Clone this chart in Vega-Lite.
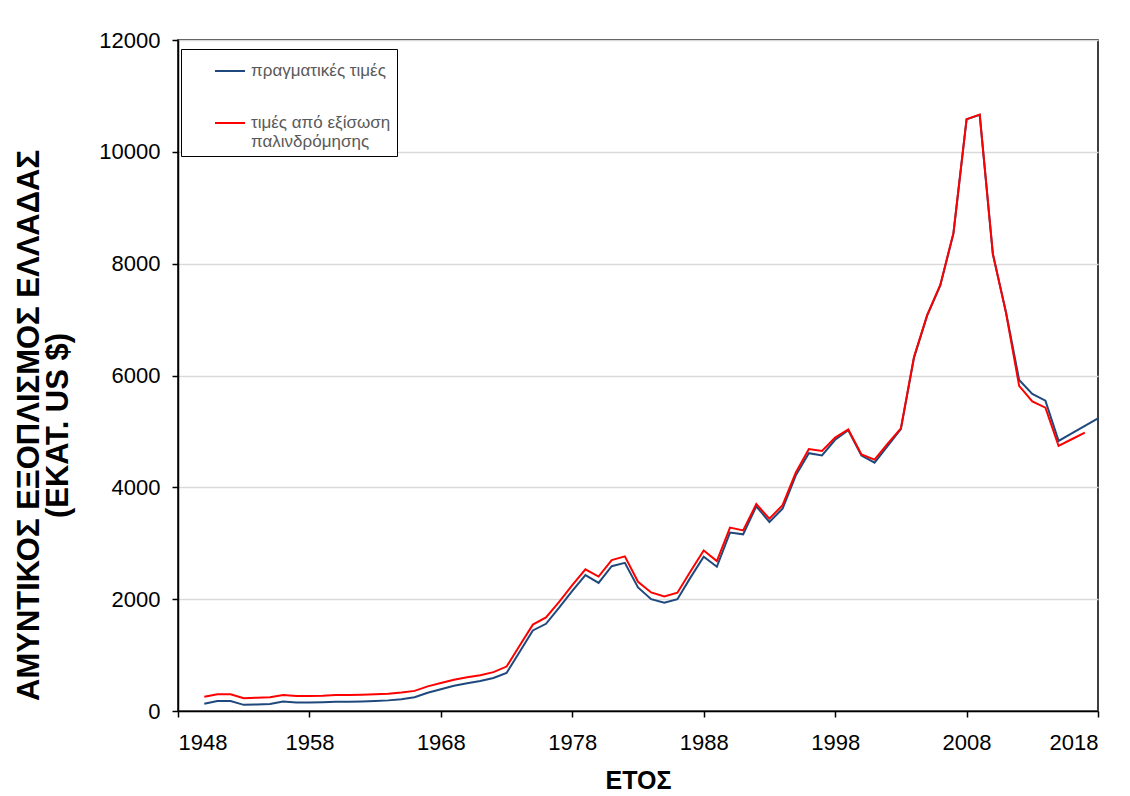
{
  "$schema": "https://vega.github.io/schema/vega-lite/v6.json",
  "width": 920,
  "height": 671,
  "autosize": {"type": "none"},
  "padding": {"left": 178, "top": 40, "right": 32, "bottom": 85},
  "background": "white",
  "config": {"view": {"stroke": "black", "strokeWidth": 1.5}, "font": "Liberation Sans", "legend": {"strokeWidth": 1}},
  "data": {"values": [
    {"year": 1950, "actual": 130, "fitted": 255},
    {"year": 1951, "actual": 180, "fitted": 300},
    {"year": 1952, "actual": 180, "fitted": 300},
    {"year": 1953, "actual": 110, "fitted": 230},
    {"year": 1954, "actual": 118, "fitted": 238},
    {"year": 1955, "actual": 125, "fitted": 245},
    {"year": 1956, "actual": 168, "fitted": 285},
    {"year": 1957, "actual": 150, "fitted": 268},
    {"year": 1958, "actual": 150, "fitted": 268},
    {"year": 1959, "actual": 155, "fitted": 272},
    {"year": 1960, "actual": 165, "fitted": 285},
    {"year": 1961, "actual": 165, "fitted": 285},
    {"year": 1962, "actual": 170, "fitted": 290},
    {"year": 1963, "actual": 178, "fitted": 298},
    {"year": 1964, "actual": 190, "fitted": 308},
    {"year": 1965, "actual": 210, "fitted": 330},
    {"year": 1966, "actual": 245, "fitted": 360},
    {"year": 1967, "actual": 325, "fitted": 440},
    {"year": 1968, "actual": 390, "fitted": 500},
    {"year": 1969, "actual": 450, "fitted": 560},
    {"year": 1970, "actual": 495, "fitted": 605},
    {"year": 1971, "actual": 535, "fitted": 640},
    {"year": 1972, "actual": 590, "fitted": 695},
    {"year": 1973, "actual": 680, "fitted": 795},
    {"year": 1974, "actual": 1060, "fitted": 1170},
    {"year": 1975, "actual": 1440, "fitted": 1545},
    {"year": 1976, "actual": 1560, "fitted": 1675},
    {"year": 1977, "actual": 1850, "fitted": 1950},
    {"year": 1978, "actual": 2150, "fitted": 2250},
    {"year": 1979, "actual": 2430, "fitted": 2535},
    {"year": 1980, "actual": 2290, "fitted": 2405},
    {"year": 1981, "actual": 2590, "fitted": 2700},
    {"year": 1982, "actual": 2650, "fitted": 2765},
    {"year": 1983, "actual": 2210, "fitted": 2310},
    {"year": 1984, "actual": 2000, "fitted": 2120},
    {"year": 1985, "actual": 1935, "fitted": 2050},
    {"year": 1986, "actual": 2000, "fitted": 2115},
    {"year": 1987, "actual": 2390, "fitted": 2500},
    {"year": 1988, "actual": 2760, "fitted": 2870},
    {"year": 1989, "actual": 2580, "fitted": 2680},
    {"year": 1990, "actual": 3190, "fitted": 3280},
    {"year": 1991, "actual": 3160, "fitted": 3230},
    {"year": 1992, "actual": 3660, "fitted": 3700},
    {"year": 1993, "actual": 3380, "fitted": 3440},
    {"year": 1994, "actual": 3620, "fitted": 3680},
    {"year": 1995, "actual": 4210, "fitted": 4260},
    {"year": 1996, "actual": 4610, "fitted": 4685},
    {"year": 1997, "actual": 4570, "fitted": 4650},
    {"year": 1998, "actual": 4850, "fitted": 4890},
    {"year": 1999, "actual": 5020, "fitted": 5035},
    {"year": 2000, "actual": 4570, "fitted": 4590},
    {"year": 2001, "actual": 4440, "fitted": 4495},
    {"year": 2002, "actual": 4740, "fitted": 4780},
    {"year": 2003, "actual": 5040, "fitted": 5055},
    {"year": 2004, "actual": 6320, "fitted": 6330},
    {"year": 2005, "actual": 7070, "fitted": 7080},
    {"year": 2006, "actual": 7610, "fitted": 7620},
    {"year": 2007, "actual": 8540, "fitted": 8545},
    {"year": 2008, "actual": 10580, "fitted": 10585},
    {"year": 2009, "actual": 10660, "fitted": 10665},
    {"year": 2010, "actual": 8170, "fitted": 8175},
    {"year": 2011, "actual": 7130, "fitted": 7120},
    {"year": 2012, "actual": 5920, "fitted": 5815},
    {"year": 2013, "actual": 5670, "fitted": 5535},
    {"year": 2014, "actual": 5550, "fitted": 5425},
    {"year": 2015, "actual": 4830, "fitted": 4740},
    {"year": 2016, "actual": 4965, "fitted": 4860},
    {"year": 2017, "actual": 5100, "fitted": 4980},
    {"year": 2018, "actual": 5235, "fitted": null}
  ]},
  "transform": [{"fold": ["actual", "fitted"], "as": ["series", "value"]}],
  "mark": {"type": "line", "strokeWidth": 2},
  "encoding": {
    "x": {
      "field": "year", "type": "quantitative",
      "scale": {"domain": [1948, 2018], "nice": false, "zero": false},
      "axis": {
        "values": [1948, 1958, 1968, 1978, 1988, 1998, 2008, 2018],
        "format": "d", "grid": false,
        "title": "ΕΤΟΣ", "titleFont": "Liberation Sans", "titleFontSize": 25, "titleFontWeight": "bold", "titleColor": "black", "titlePadding": 15,
        "labelFont": "Liberation Sans", "labelFontSize": 22, "labelColor": "black", "labelPadding": 15,
        "tickSize": 6, "tickColor": "black", "tickWidth": 1.5,
        "domainColor": "black", "domainWidth": 1.5
      }
    },
    "y": {
      "field": "value", "type": "quantitative",
      "scale": {"domain": [0, 12000], "nice": false},
      "axis": {
        "values": [0, 2000, 4000, 6000, 8000, 10000, 12000],
        "format": "d",
        "title": ["ΑΜΥΝΤΙΚΟΣ ΕΞΟΠΛΙΣΜΟΣ ΕΛΛΑΔΑΣ", "(ΕΚΑΤ. US $)"],
        "titleFont": "Liberation Sans", "titleFontSize": 31, "titleFontWeight": "bold", "titleColor": "black",
        "titleLineHeight": 29, "titlePadding": 24, "titleY": 385,
        "labelFont": "Liberation Sans", "labelFontSize": 22, "labelColor": "black", "labelPadding": 12,
        "tickSize": 6, "tickColor": "black", "tickWidth": 1.5,
        "domainColor": "black", "domainWidth": 1.5,
        "gridColor": "#d9d9d9", "gridWidth": 1.5
      }
    },
    "color": {
      "field": "series", "type": "nominal",
      "scale": {"domain": ["actual", "fitted"], "range": ["#1F497D", "#FF0000"]},
      "legend": {
        "title": null, "orient": "none", "legendX": 3, "legendY": 9,
        "strokeColor": "black", "fillColor": "white", "padding": 6,
        "symbolType": "stroke", "symbolSize": 900, "symbolStrokeWidth": 2, "symbolOffset": 27,
        "labelOffset": 5, "labelFont": "Liberation Sans", "labelFontSize": 17, "labelColor": "#595959",
        "labelLimit": 400, "rowPadding": 28,
        "labelExpr": "datum.label == 'actual' ? 'πραγματικές τιμές' : ['τιμές από εξίσωση\u00a0\u00a0\u00a0\u00a0\u00a0\u00a0\u00a0\u00a0\u00a0\u00a0\u00a0\u00a0\u00a0\u00a0\u00a0\u00a0\u00a0\u00a0\u00a0\u00a0', 'παλινδρόμησης']"
      }
    }
  }
}
